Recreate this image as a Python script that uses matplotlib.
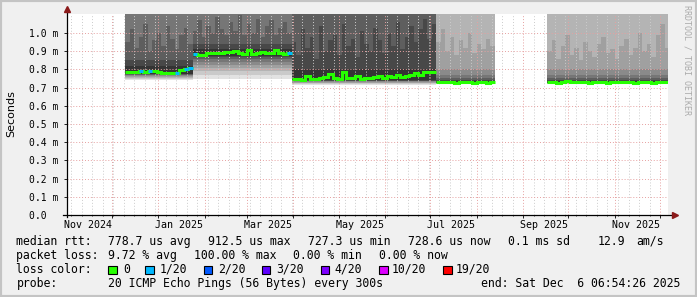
import matplotlib
matplotlib.use("Agg")
import numpy as np
import matplotlib.pyplot as plt
import matplotlib.dates as mdates
import matplotlib.transforms as mtransforms
from matplotlib.patches import Rectangle
from matplotlib.ticker import NullFormatter
from datetime import datetime, timedelta


# =========================
# Data (values in ms)
# =========================

SAMPLE_DAYS = 3

seg1_start = datetime(2024, 12, 10)
seg1_median = [0.785, 0.787, 0.786, 0.790, 0.788, 0.791, 0.793, 0.786, 0.783,
               0.780, 0.781, 0.783, 0.795, 0.800, 0.806]
seg1_loss = [0, 0, 0, 1, 0, 1, 0, 0, 0, 0, 0, 1, 0, 1, 1]
seg1_streak = [0.95, 1.02, 0.92, 0.98, 1.05, 0.90, 0.96, 1.00, 0.93, 1.04,
               0.97, 0.91, 0.99, 1.03, 0.94]
seg1_lower = [0.742, 0.748, 0.754, 0.759, 0.764, 0.768, 0.771, 0.774, 0.777]
seg1_upper = [1.3, 1.3, 1.3, 1.3, 1.3, 1.3, None, 0.850, 0.818]

seg2_start = datetime(2025, 1, 24)
seg2_median = [0.884, 0.880, 0.879, 0.892, 0.889, 0.890, 0.888, 0.898, 0.897,
               0.899, 0.890, 0.887, 0.905, 0.886, 0.888, 0.897, 0.893, 0.890,
               0.905, 0.888, 0.886, 0.893]
seg2_loss = [1, 0, 0, 0, 0, 0, 0, 0, 0, 0, 0, 0, 0, 0, 0, 0, 0, 0, 0, 0, 0, 1]
seg2_streak = [1.01, 1.07, 0.98, 1.04, 1.00, 1.09, 1.02, 0.99, 1.06, 1.01,
               1.10, 0.99, 1.05, 1.00, 1.08, 0.98, 1.04, 1.07, 0.99, 1.03,
               1.06, 1.00]
seg2_lower = [0.748, 0.770, 0.790, 0.808, 0.825, 0.842, 0.856, 0.866, 0.873]
seg2_upper = [1.3, 1.3, 1.3, 1.3, 1.3, 1.3, None, 0.940, 0.912]

seg3_start = datetime(2025, 3, 31)
seg3_median = [0.745, 0.748, 0.744, 0.762, 0.750, 0.748, 0.755, 0.760, 0.775,
               0.752, 0.750, 0.785, 0.752, 0.755, 0.762, 0.750, 0.754, 0.752,
               0.758, 0.764, 0.755, 0.766, 0.758, 0.768, 0.760, 0.765, 0.772,
               0.778, 0.770, 0.788, 0.784, 0.786]
seg3_loss = [0, 0, 0, 0, 0, 0, 0, 0, 0, 0, 0, 0, 0, 0, 0, 0,
             0, 0, 0, 0, 0, 0, 0, 0, 0, 0, 0, 0, 0, 0, 0, 0]
seg3_streak = [0.95, 0.88, 1.02, 0.92, 0.98, 0.86, 1.04, 0.90, 0.96, 0.99,
               0.88, 1.05, 0.93, 0.97, 0.87, 1.01, 0.94, 0.90, 1.03, 0.96,
               0.89, 1.00, 0.93, 1.06, 0.91, 0.98, 1.04, 0.95, 1.02, 1.08,
               0.97, 1.05]
seg3_lower = [0.716, 0.721, 0.725, 0.728, 0.731, 0.734, 0.736, 0.738, 0.740]
seg3_upper = [1.3, 1.3, 1.3, 1.3, 1.3, 1.3, 1.3, None, 0.800]

seg4_start = datetime(2025, 7, 5)
seg4_median = [0.730, 0.729, 0.729, 0.729, 0.728, 0.729, 0.729, 0.729, 0.728,
               0.729, 0.729, 0.728, 0.729]
seg4_loss = [0, 0, 0, 0, 0, 0, 0, 0, 0, 0, 0, 0, 0]
seg4_streak = [0.95, 1.02, 0.90, 0.98, 0.88, 0.96, 0.92, 1.00, 0.89, 0.94,
               0.91, 0.97, 0.93]
seg4_lower = [0.719, 0.721, 0.723, 0.724, 0.725, 0.726, 0.727, 0.7275, 0.728]
seg4_upper = [1.3, 1.3, 1.3, None, 0.800, 0.770, 0.752, 0.742, 0.736]

seg5_start = datetime(2025, 9, 17)
seg5_median = [0.729, 0.729, 0.728, 0.729, 0.734, 0.730, 0.729, 0.729, 0.729,
               0.728, 0.729, 0.729, 0.729, 0.728, 0.729, 0.729, 0.730, 0.729,
               0.729, 0.728, 0.729, 0.729, 0.729, 0.728, 0.729, 0.729, 0.729]
seg5_loss = [0, 0, 0, 0, 0, 0, 0, 0, 0, 0, 0, 0, 0, 0,
             0, 0, 0, 0, 0, 0, 0, 0, 0, 0, 0, 0, 0]
seg5_streak = [0.90, 0.96, 0.86, 0.93, 0.99, 0.88, 0.92, 0.85, 0.95, 0.90,
               0.87, 0.94, 0.98, 0.89, 0.91, 0.86, 0.93, 0.97, 0.88, 0.92,
               1.00, 0.90, 0.94, 0.87, 0.99, 1.05, 0.92]
seg5_lower = [0.719, 0.721, 0.723, 0.724, 0.725, 0.726, 0.727, 0.7275, 0.728]
seg5_upper = [1.3, 1.3, 1.3, None, 0.800, 0.770, 0.752, 0.742, 0.736]

# loss thresholds (pings lost out of 20) and their colours
loss_levels = [0, 1, 2, 3, 4, 10, 19]
loss_labels = ["0", "1/20", "2/20", "3/20", "4/20", "10/20", "19/20"]
loss_colors = ["#26ff00", "#00b8ff", "#0059ff", "#5e00ff", "#7e00ff",
               "#dd00ff", "#ff0000"]

ytick_vals = [0.0, 0.1, 0.2, 0.3, 0.4, 0.5, 0.6, 0.7, 0.8, 0.9, 1.0]
ytick_labels = ["0.0  ", "0.1 m", "0.2 m", "0.3 m", "0.4 m", "0.5 m",
                "0.6 m", "0.7 m", "0.8 m", "0.9 m", "1.0 m"]

xlabel_dates = [datetime(2024, 11, 15), datetime(2025, 1, 15),
                datetime(2025, 3, 15), datetime(2025, 5, 15),
                datetime(2025, 7, 15), datetime(2025, 9, 15),
                datetime(2025, 11, 15)]
xlabel_texts = ["Nov 2024", "Jan 2025", "Mar 2025", "May 2025",
                "Jul 2025", "Sep 2025", "Nov 2025"]

rtt_stats = ["778.7 us avg", "912.5 us max", "727.3 us min", "728.6 us now",
             "0.1 ms sd", "12.9", "am/s"]
pl_stats = ["9.72 % avg", "100.00 % max", "0.00 % min", "0.00 % now"]
probe_text = "20 ICMP Echo Pings (56 Bytes) every 300s"
end_text = "end: Sat Dec  6 06:54:26 2025"

T_START = datetime(2024, 11, 1, 6, 54, 26)
T_END = datetime(2025, 12, 6, 6, 54, 26)
Y_MAX = 1.105


# =========================
# Style / layout
# =========================

W, H = 697, 297
MONO = "DejaVu Sans Mono"
SMOKE_GRAYS = ["#e2e2e2", "#cacaca", "#b4b4b4", "#a0a0a0", "#8a8a8a",
               "#767676", "#5e5e5e", "#484848", "#343434"]
MAJOR_GRID = "#e6a0a0"
MINOR_GRID = "#cccccc"
ARROW_RED = "#8b1a1a"


def fx(px):
    return px / W


def fy(py):
    return 1 - py / H


def loss_color(count):
    col = loss_colors[0]
    for lvl, c in zip(loss_levels, loss_colors):
        if count >= lvl:
            col = c
    return col


fig = plt.figure(figsize=(W / 100, H / 100), dpi=100, facecolor="#f0f0f0")
ax = fig.add_axes([fx(67), fy(215), 601 / W, 201 / H])
ax.set_facecolor("white")

segments = [
    (seg1_start, seg1_median, seg1_loss, seg1_streak, seg1_lower, seg1_upper),
    (seg2_start, seg2_median, seg2_loss, seg2_streak, seg2_lower, seg2_upper),
    (seg3_start, seg3_median, seg3_loss, seg3_streak, seg3_lower, seg3_upper),
    (seg4_start, seg4_median, seg4_loss, seg4_streak, seg4_lower, seg4_upper),
    (seg5_start, seg5_median, seg5_loss, seg5_streak, seg5_lower, seg5_upper),
]

# =========================
# Smoke + median
# =========================

for start, med, loss, streak, lower, upper in segments:
    n = len(med)
    edges = mdates.date2num([start + timedelta(days=SAMPLE_DAYS * i)
                             for i in range(n + 1)])
    for k, gray in enumerate(SMOKE_GRAYS):
        lo = np.full(n, lower[k])
        hi = np.array(streak) if upper[k] is None else np.full(n, upper[k])
        ax.stairs(hi, edges, baseline=lo, fill=True, color=gray,
                  linewidth=0, zorder=1)

    ax.stairs(med, edges, baseline=None, color=loss_colors[0],
              linewidth=2.2, zorder=3)
    for i in range(n):
        if loss[i] > 0:
            ax.hlines(med[i], edges[i], edges[i + 1],
                      color=loss_color(loss[i]), linewidth=2.2, zorder=4)

# =========================
# Axes, grid, labels
# =========================

ax.set_xlim(mdates.date2num(T_START), mdates.date2num(T_END))
ax.set_ylim(0, Y_MAX)
ax.xaxis_date()
ax.xaxis.set_major_locator(mdates.MonthLocator())
ax.xaxis.set_minor_locator(mdates.WeekdayLocator(byweekday=mdates.MO))
ax.xaxis.set_major_formatter(NullFormatter())
ax.xaxis.set_minor_formatter(NullFormatter())

ax.set_yticks(ytick_vals)
ax.set_yticklabels(ytick_labels, family=MONO, fontsize=7)

ax.set_axisbelow(False)
ax.grid(True, which="minor", axis="x", color=MINOR_GRID,
        linestyle=(0, (1, 2)), linewidth=0.7)
ax.grid(True, which="major", axis="x", color=MAJOR_GRID,
        linestyle=(0, (1, 2)), linewidth=0.7)
ax.grid(True, which="major", axis="y", color=MAJOR_GRID,
        linestyle=(0, (1, 2)), linewidth=0.7)

ax.tick_params(axis="y", length=2, width=0.6, pad=4, colors="black")
ax.tick_params(axis="x", which="major", length=2, width=0.6)
ax.tick_params(axis="x", which="minor", length=1, width=0.5)

for s in ax.spines.values():
    s.set_visible(False)

# axis lines with rrdtool style arrow heads
ax.plot([-4 / 601, 1.008], [0, 0], transform=ax.transAxes, color="black",
        linewidth=0.9, clip_on=False, zorder=5)
ax.plot([0, 0], [-2 / 201, 1.01], transform=ax.transAxes, color="black",
        linewidth=0.9, clip_on=False, zorder=5)
ax.plot([1.012], [0], transform=ax.transAxes, marker=">", markersize=4,
        color=ARROW_RED, clip_on=False, zorder=6)
ax.plot([0], [1.025], transform=ax.transAxes, marker="^", markersize=4,
        color=ARROW_RED, clip_on=False, zorder=6)

trans = mtransforms.blended_transform_factory(ax.transData, ax.transAxes)
for d, lab in zip(xlabel_dates, xlabel_texts):
    ax.text(mdates.date2num(d), (215 - 227.7) / 201, lab, transform=trans,
            ha="center", va="baseline", family=MONO, fontsize=7.2,
            clip_on=False)

fig.text(fx(11), fy(113.5), "Seconds", rotation=90, ha="center", va="center",
         family="DejaVu Sans", fontsize=8)

fig.text(fx(686.5), fy(60), "RRDTOOL / TOBI OETIKER", rotation=270,
         ha="center", va="center", family=MONO, fontsize=6, color="#ababab")

# =========================
# Legend / stats block
# =========================

TXT = dict(family=MONO, fontsize=8.3, va="baseline", ha="left")

fig.text(fx(16.4), fy(245), "median rtt:", **TXT)
for x, s in zip([107.6, 207.6, 307.6, 407.6, 507.6, 597.8, 636.4], rtt_stats):
    fig.text(fx(x), fy(245), s, **TXT)

fig.text(fx(16.4), fy(259.2), "packet loss:", **TXT)
for x, s in zip([107.6, 194.0, 293.3, 379.3], pl_stats):
    fig.text(fx(x), fy(259.2), s, **TXT)

fig.text(fx(16.4), fy(273), "loss color:", **TXT)
box_x = [108, 145, 203.5, 261.5, 320.5, 379.3, 443]
text_x = [123, 160, 218, 276.5, 334, 392, 456]
for bx, tx, lab, col in zip(box_x, text_x, loss_labels, loss_colors):
    fig.add_artist(Rectangle((fx(bx), fy(274)), 8.5 / W, 8.5 / H,
                             transform=fig.transFigure, facecolor=col,
                             edgecolor="black", linewidth=0.8))
    fig.text(fx(tx), fy(273), lab, **TXT)

fig.text(fx(16.4), fy(287.3), "probe:", **TXT)
fig.text(fx(107.6), fy(287.3), probe_text, **TXT)
fig.text(fx(680), fy(287.3), end_text, family=MONO, fontsize=8.3,
         va="baseline", ha="right")

# frame around the canvas
fig.add_artist(Rectangle((0, 0), 1, 1, transform=fig.transFigure, fill=False,
                         edgecolor="#c4c4c4", linewidth=3))

fig.savefig("out.png", dpi=100, facecolor=fig.get_facecolor())
